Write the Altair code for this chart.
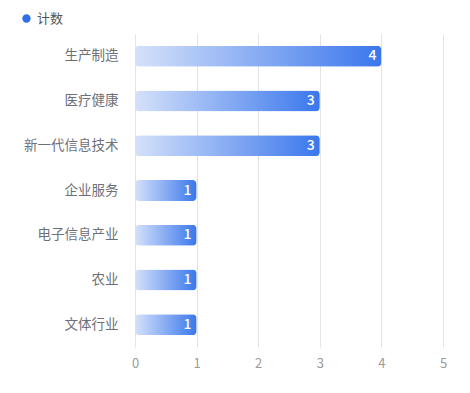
import altair as alt
import pandas as pd

categories = ["生产制造", "医疗健康", "新一代信息技术", "企业服务", "电子信息产业", "农业", "文体行业"]
values = [4, 3, 3, 1, 1, 1, 1]
series_name = "计数"
x_ticks = [0, 1, 2, 3, 4, 5]

df = pd.DataFrame({"category": categories, "value": values, "series": series_name})
legend_df = pd.DataFrame({"category": [categories[0]], "value": [2], "series": [series_name]})

FONT = "Noto Sans CJK SC"

y_enc = alt.Y("category:N", sort=categories, title=None,
              scale=alt.Scale(paddingInner=0.53, paddingOuter=0.265),
              axis=alt.Axis(domain=False, ticks=False, labelPadding=17, labelFontSize=13.5,
                            labelColor="#6e7079", labelFont=FONT, grid=False))
x_enc = alt.X("value:Q", title=None, scale=alt.Scale(domain=[0, 5], nice=False),
              axis=alt.Axis(values=x_ticks, domain=False, ticks=False, labelPadding=10,
                            labelFontSize=13, labelColor="#9a9a9a", labelFont=FONT,
                            labelFlush=False,
                            grid=True, gridColor="#e3e3e3", format="d"))

gradient = {
    "gradient": "linear", "x1": 0, "y1": 0, "x2": 1, "y2": 0,
    "stops": [{"offset": 0, "color": "#d5e1fa"}, {"offset": 1, "color": "#3a77ec"}],
}

legend_layer = alt.Chart(legend_df).mark_circle(opacity=0, size=10).encode(
    x=x_enc, y=y_enc,
    color=alt.Color("series:N", title=None,
                    scale=alt.Scale(range=["#2e6ee8"]),
                    legend=alt.Legend(orient="none", legendX=-115, legendY=-22,
                                      symbolType="circle", symbolSize=70, symbolOpacity=1,
                                      labelFontSize=13, labelColor="#555555", labelFont=FONT,
                                      symbolStrokeWidth=0)),
)

bars = alt.Chart(df).mark_bar(fill=gradient, cornerRadius=4, height=21).encode(
    x=x_enc, y=y_enc,
)

labels = alt.Chart(df).mark_text(align="right", baseline="middle", dx=-5, color="white",
                                 fontSize=14, font=FONT, fontWeight=500).encode(
    x=x_enc, y=y_enc, text=alt.Text("value:Q"),
)

chart = alt.layer(legend_layer, bars, labels).properties(
    width=308, height=313,
    autosize=alt.AutoSizeParams(type="none"),
    padding={"left": 127, "top": 26, "right": 19, "bottom": 38},
).configure_view(stroke=None)

chart.save("out.html", embed_options={"renderer": "svg", "actions": False})
